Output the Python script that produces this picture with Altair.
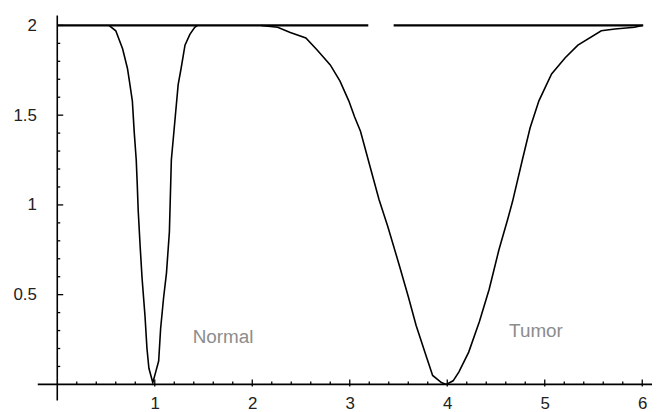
import altair as alt
import pandas as pd

# ---------------- data ----------------
normal_x = [0.53, 0.60, 0.67, 0.72, 0.74, 0.77, 0.79, 0.81, 0.82, 0.83, 0.85, 0.87, 0.90,
            0.92, 0.94, 0.98, 1.01, 1.04, 1.06, 1.09, 1.12, 1.15, 1.17, 1.21, 1.24, 1.27,
            1.31, 1.36, 1.41, 1.44]
normal_y = [2.00, 1.97, 1.87, 1.76, 1.69, 1.58, 1.40, 1.25, 1.12, 0.97, 0.77, 0.59, 0.38,
            0.20, 0.09, 0.01, 0.07, 0.13, 0.31, 0.48, 0.62, 0.85, 1.25, 1.49, 1.67, 1.76,
            1.89, 1.95, 1.99, 2.00]

tumor_x = [2.09, 2.26, 2.39, 2.55, 2.67, 2.80, 2.90, 2.99, 3.05, 3.11, 3.21, 3.30, 3.39,
           3.51, 3.60, 3.68, 3.77, 3.85, 3.94, 3.99, 4.06, 4.12, 4.22, 4.33, 4.43, 4.53,
           4.62, 4.67, 4.77, 4.85, 4.94, 5.07, 5.21, 5.34, 5.58, 5.72, 5.92, 6.00]
tumor_y = [2.00, 1.99, 1.96, 1.93, 1.86, 1.78, 1.69, 1.58, 1.49, 1.41, 1.21, 1.03, 0.88,
           0.66, 0.49, 0.33, 0.18, 0.05, 0.01, 0.00, 0.02, 0.07, 0.18, 0.35, 0.53, 0.75,
           0.92, 1.02, 1.25, 1.43, 1.58, 1.73, 1.82, 1.89, 1.97, 1.98, 1.99, 2.00]

level_start = [0.0, 3.45]
level_end = [3.19, 6.01]
level_value = [2.0, 2.0]

labels = ["Normal", "Tumor"]
label_x = [1.70, 4.91]
label_y = [0.232, 0.265]

x_major = [1, 2, 3, 4, 5, 6]
x_minor = [0.2, 0.4, 0.6, 0.8, 1.2, 1.4, 1.6, 1.8, 2.2, 2.4, 2.6, 2.8, 3.2, 3.4, 3.6, 3.8,
           4.2, 4.4, 4.6, 4.8, 5.2, 5.4, 5.6, 5.8]
y_major = [0.5, 1, 1.5, 2]
y_minor = [0.1, 0.2, 0.3, 0.4, 0.6, 0.7, 0.8, 0.9, 1.1, 1.2, 1.3, 1.4, 1.6, 1.7, 1.8, 1.9]

X_MIN, X_MAX = -0.2, 6.1
Y_MIN, Y_MAX = -0.09, 2.055

W, H = 619, 388
FONT = "Liberation Sans"

x_off = -(0 - X_MIN) / (X_MAX - X_MIN) * W
y_off = -(0 - Y_MIN) / (Y_MAX - Y_MIN) * H

xs = alt.Scale(domain=[X_MIN, X_MAX], nice=False, zero=False)
ys = alt.Scale(domain=[Y_MIN, Y_MAX], nice=False, zero=False)

curves = pd.DataFrame(
    {"x": normal_x + tumor_x,
     "y": normal_y + tumor_y,
     "series": ["Normal"] * len(normal_x) + ["Tumor"] * len(tumor_x),
     "order": list(range(len(normal_x))) + list(range(len(tumor_x)))}
)

x_axis = alt.Axis(values=x_major, orient="bottom", offset=y_off, ticks=False,
                  domain=False, grid=False, labelPadding=11, labelFontSize=17,
                  labelFont=FONT, labelColor="#222222", title=None, format="~g",
                  labelBaseline="top")
y_axis = alt.Axis(values=y_major, orient="left", offset=x_off, ticks=False,
                  domain=False, grid=False, labelPadding=21, labelFontSize=17,
                  labelFont=FONT, labelColor="#222222", title=None, format="~g")

curve_layer = alt.Chart(curves).mark_line(color="black", strokeWidth=1.6).encode(
    x=alt.X("x:Q", scale=xs, axis=x_axis),
    y=alt.Y("y:Q", scale=ys, axis=y_axis),
    detail="series:N",
    order="order:Q",
)

level_df = pd.DataFrame({"x": level_start, "x2": level_end, "y": level_value})
level_layer = alt.Chart(level_df).mark_rule(color="black", strokeWidth=2.2).encode(
    x=alt.X("x:Q", scale=xs), x2="x2:Q", y=alt.Y("y:Q", scale=ys)
)

xaxis_df = pd.DataFrame({"x": [X_MIN], "x2": [X_MAX], "y": [0.0]})
xaxis_line = alt.Chart(xaxis_df).mark_rule(color="black", strokeWidth=1.6).encode(
    x=alt.X("x:Q", scale=xs), x2="x2:Q", y=alt.Y("y:Q", scale=ys)
)
yaxis_df = pd.DataFrame({"y": [Y_MIN], "y2": [Y_MAX], "x": [0.0]})
yaxis_line = alt.Chart(yaxis_df).mark_rule(color="black", strokeWidth=1.6).encode(
    y=alt.Y("y:Q", scale=ys), y2="y2:Q", x=alt.X("x:Q", scale=xs)
)

xmaj_df = pd.DataFrame({"x": x_major})
xmaj = alt.Chart(xmaj_df).mark_rule(color="black", strokeWidth=1.3, yOffset=2, y2Offset=-5).encode(
    x=alt.X("x:Q", scale=xs), y=alt.YDatum(0), y2=alt.Y2Datum(0)
)
xmin_df = pd.DataFrame({"x": x_minor})
xmin = alt.Chart(xmin_df).mark_rule(color="black", strokeWidth=1.3, y2Offset=-3).encode(
    x=alt.X("x:Q", scale=xs), y=alt.YDatum(0), y2=alt.Y2Datum(0)
)
ymaj_df = pd.DataFrame({"y": y_major})
ymaj = alt.Chart(ymaj_df).mark_rule(color="black", strokeWidth=1.3, x2Offset=6).encode(
    y=alt.Y("y:Q", scale=ys), x=alt.XDatum(0), x2=alt.X2Datum(0)
)
ymin_df = pd.DataFrame({"y": y_minor})
ymin = alt.Chart(ymin_df).mark_rule(color="black", strokeWidth=1.3, x2Offset=3).encode(
    y=alt.Y("y:Q", scale=ys), x=alt.XDatum(0), x2=alt.X2Datum(0)
)

text_df = pd.DataFrame({"label": labels, "x": label_x, "y": label_y})
text_layer = alt.Chart(text_df).mark_text(
    font=FONT, fontSize=19, color="#8c8c8c", align="center", baseline="alphabetic"
).encode(x=alt.X("x:Q", scale=xs), y=alt.Y("y:Q", scale=ys), text="label:N")

chart = alt.layer(
    curve_layer, xaxis_line, yaxis_line, xmaj, xmin, ymaj, ymin, level_layer, text_layer
).properties(
    width=W, height=H, autosize=alt.AutoSizeParams(type="none"),
    padding={"left": 30, "top": 6, "right": 0, "bottom": 20},
    background="white",
).configure_view(strokeWidth=0)

chart.save("out.html", embed_options={"renderer": "svg", "actions": False})
